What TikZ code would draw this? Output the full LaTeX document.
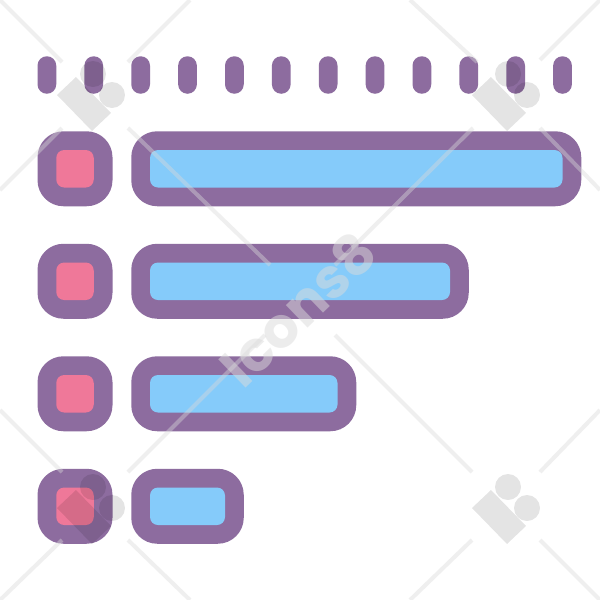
\documentclass[tikz,border=0pt]{standalone}
\usepackage{fontspec}
\setmainfont{Poppins}[BoldFont=* Bold]
\definecolor{plum}{HTML}{8D6C9F}
\definecolor{rosy}{HTML}{EF7899}
\definecolor{sky}{HTML}{85CBFA}
\tikzset{
  outerbox/.style={fill=plum,rounded corners=26pt},
  pinkbox/.style={fill=rosy,rounded corners=8pt},
  bluebox/.style={fill=sky,rounded corners=8pt},
  tickbar/.style={fill=plum,rounded corners=9.37pt},
  wmline/.style={draw=black!15,draw opacity=.42,line width=4pt},
}
\newcommand{\rowicon}[2]{%
  \fill[outerbox] (37.5,#1) rectangle (112.5,#1+75);
  \fill[pinkbox] (56.25,#1+18.75) rectangle (93.75,#1+56.25);
  \fill[outerbox] (131.25,#1) rectangle (#2,#1+75);
  \fill[bluebox] (150,#1+18.75) rectangle (#2-18.75,#1+56.25);
}
\newcommand{\wmlogo}[2]{%
  \begin{scope}[shift={(#1,#2)},transparency group,opacity=.105]
    \fill[black] (57,95) -- (76,77) -- (111,113) -- (92,131) -- cycle;
    \fill[black] (93,74) circle (13);
    \fill[black] (112,95) circle (13);
  \end{scope}
}
\begin{document}
\begin{tikzpicture}[x=1pt,y=-1pt]
\useasboundingbox (0,0) rectangle (600,600);
\fill[white] (0,0) rectangle (600,600);
\foreach \i in {0,...,11}{
  \fill[tickbar] ({37.5+46.875*\i},56.25) rectangle ({56.25+46.875*\i},93.75);
}
\rowicon{131.25}{581.25}
\rowicon{243.75}{468.75}
\rowicon{356.25}{356.25}
\rowicon{468.75}{243.75}
% watermark lines
\foreach \a/\b/\c/\d in {
  0/0/62/62, 190/0/128/62, 62/128/0/190,
  128/128/270/265, 473/128/335/265,
  265/335/128/472, 335/335/472/472,
  410/0/477/62, 600/0/540/60, 540/128/600/190,
  0/410/62/472, 62/540/0/600, 128/540/190/600,
  410/600/472/540, 540/540/600/600, 540/472/600/410}{
  \draw[wmline] (\a,\b) -- (\c,\d);
}
\wmlogo{0}{0}
\wmlogo{415}{0}
\wmlogo{0}{413}
\wmlogo{415}{413}
\node[rotate=44,text=black!14,text opacity=.5,font=\fontsize{56}{56}\selectfont\bfseries,inner sep=0pt] (wm) at (298,309) {Icons8};
\end{tikzpicture}
\end{document}
